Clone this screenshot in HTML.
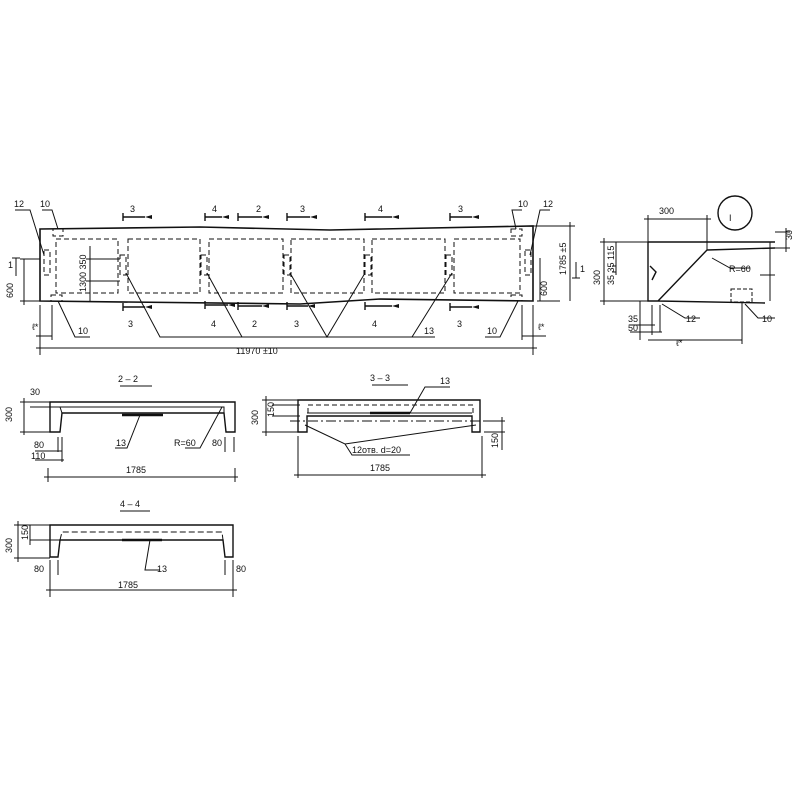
<!DOCTYPE html>
<html><head><meta charset="utf-8"><style>
html,body{margin:0;padding:0;background:#fff;}
svg{display:block}
text{font-family:"Liberation Sans",sans-serif;font-size:9px;fill:#111}
</style></head><body>
<svg width="800" height="800" viewBox="0 0 800 800" xmlns="http://www.w3.org/2000/svg">
<g stroke="#111" fill="none" stroke-width="1">
<!-- main plan -->
<path d="M40 229 L200 227 L330 230 L533 226 L533 301 L380 299 L300 304 L40 301 Z" stroke-width="1.6"/>
<g stroke-dasharray="5,3">
<rect x="56" y="239" width="62" height="54"/>
<rect x="128" y="239" width="72" height="54"/>
<rect x="209" y="239" width="74" height="54"/>
<rect x="291" y="239" width="73" height="54"/>
<rect x="372" y="239" width="73" height="54"/>
<rect x="454" y="239" width="66" height="54"/>
<rect x="120" y="255" width="6" height="20"/>
<rect x="201" y="255" width="6" height="20"/>
<rect x="284" y="255" width="6" height="20"/>
<rect x="365" y="255" width="6" height="20"/>
<rect x="446" y="255" width="6" height="20"/>
<rect x="44" y="250" width="6" height="25"/>
<rect x="525" y="250" width="6" height="25"/>
<rect x="53" y="229" width="10" height="7"/>
<rect x="51" y="295" width="11" height="6"/>
<rect x="511" y="229" width="11" height="7"/>
<rect x="511" y="295" width="11" height="6"/>
</g>
<path d="M126 273 L160 337 L435 337 M207 273 L242 337 M290 273 L327 337 L365 273 M452 273 L412 337"/>
<path d="M15 210 L30 210 L44 255 M42 210 L52 210 L58 229 M58 301 L75 337 L90 337 M522 210 L512 210 L516 229 M550 210 L540 210 L530 255 M518 301 L500 337 L485 337"/>
<g stroke-width="1.4">
<path d="M123 213 L123 221 M123 217 L145 217 M205 213 L205 221 M205 217 L222 217 M238 213 L238 221 M238 217 L262 217 M287 213 L287 221 M287 217 L310 217 M365 213 L365 221 M365 217 L392 217 M450 213 L450 221 M450 217 L472 217"/>
<path d="M123 303 L123 311 M123 307 L145 307 M205 301 L205 309 M205 305 L228 305 M238 302 L238 310 M238 306 L262 306 M287 302 L287 310 M287 306 L308 306 M365 302 L365 310 M365 306 L392 306 M450 303 L450 311 M450 307 L472 307"/>
</g>
<path d="M40 305 L40 355 M533 305 L533 355 M36 348 L537 348 M36 336 L52 336 M52 305 L52 340 M522 305 L522 340 M522 336 L546 336"/>
<path d="M20 259 L40 259 M20 301 L40 301 M24 259 L24 305 M86 259 L120 259 M86 281 L120 281 M90 246 L90 301 M540 258 L540 301 M537 301 L560 301 M533 226 L575 226 M570 222 L570 301"/>
<path d="M16 258 L16 276 M12 258 L20 258 M576 262 L576 278 M572 278 L580 278"/>
<!-- detail I -->
<circle cx="735" cy="213" r="17" stroke-width="1.4"/>
<path d="M648 242 L775 242 M707 250 L775 248 M648 242 L648 301 L658 301 L765 303 M650 266 L656 272 L652 280 M658 301 L707 250" stroke-width="1.4"/>
<rect x="731" y="289" width="21" height="13" stroke-dasharray="4,2"/>
<path d="M648 215 L648 242 M707 215 L707 250 M644 219 L711 219 M600 242 L648 242 M600 301 L648 301 M604 238 L604 305 M616 242 L616 275 M612 266 L616 266 M612 272 L616 272 M775 232 L790 232 M775 248 L790 248 M786 228 L786 252 M760 275 L775 275 M770 242 L770 301 M640 301 L640 340 M652 305 L652 335 M660 305 L660 332 M630 325 L655 325 M630 332 L662 332 M648 340 L742 340 M742 303 L742 344 M712 258 L730 268 L750 268 M662 304 L685 318 L700 318 M745 304 L758 318 L775 318"/>
<!-- section 2-2 -->
<path d="M120 386 L152 386" />
<path d="M50 402 L235 402 L235 432 L226 432 L224 413 L62 413 L60 432 L50 432 Z" stroke-width="1.4"/>
<path d="M62 413 L60 407 L224 407 L224 413"/>
<path d="M122 415 L163 415" stroke-width="2.5"/>
<path d="M140 415 L127 448 L115 448 M222 407 L200 448 L185 448 M20 402 L50 402 M20 432 L50 432 M24 398 L24 435 M30 407 L60 407 M58 437 L58 452 M62 437 L62 462 M35 451 L62 451 M35 460 L64 460 M234 437 L234 452 M225 437 L225 452 M48 468 L48 482 M235 468 L235 482 M44 477 L238 477"/>
<!-- section 3-3 -->
<path d="M372 385 L408 385"/>
<path d="M298 400 L480 400 L480 432 L472 432 L472 416 L307 416 L307 432 L298 432 Z" stroke-width="1.4"/>
<path d="M308 413 L308 405 L473 405 L473 413" stroke-dasharray="5,3"/>
<path d="M307 413 L472 413"/>
<path d="M290 421 L500 421" stroke-dasharray="10,3,2,3"/>
<path d="M370 413 L410 413" stroke-width="2.5"/>
<path d="M410 413 L425 387 L450 387 M305 425 L345 444 L476 425 M345 444 L352 455 L410 455 M262 400 L298 400 M262 432 L298 432 M266 396 L266 436 M272 405 L300 405 M272 416 L300 416 M484 421 L505 421 M484 432 L505 432 M502 417 L502 450 M298 436 L298 478 M482 436 L482 478 M294 475 L486 475"/>
<!-- section 4-4 -->
<path d="M120 511 L150 511"/>
<path d="M50 525 L233 525 L233 557 L225 557 L223 540 L60 540 L58 557 L50 557 Z" stroke-width="1.4"/>
<path d="M60 540 L62 532 L222 532 L223 540" stroke-dasharray="6,3"/>
<path d="M122 540 L162 540" stroke-width="2.5"/>
<path d="M150 540 L145 570 L160 570 M14 525 L50 525 M14 558 L50 558 M18 521 L18 562 M30 540 L60 540 M30 525 L30 545 M50 560 L50 597 M233 560 L233 597 M58 560 L58 575 M225 560 L225 575 M46 590 L237 590"/>
</g>
<g fill="#111" stroke="none">
<path d="M145 217 L152 215 L152 219 Z M222 217 L229 215 L229 219 Z M262 217 L269 215 L269 219 Z M310 217 L317 215 L317 219 Z M392 217 L399 215 L399 219 Z M472 217 L479 215 L479 219Z"/>
<path d="M145 307 L152 305 L152 309 Z M228 305 L235 303 L235 307 Z M262 306 L269 304 L269 308 Z M308 306 L315 304 L315 308 Z M392 306 L399 304 L399 308 Z M472 307 L479 305 L479 309Z"/>
</g>
<text x="130" y="212">3</text><text x="212" y="212">4</text><text x="256" y="212">2</text><text x="300" y="212">3</text><text x="378" y="212">4</text><text x="458" y="212">3</text>
<text x="128" y="327">3</text><text x="211" y="327">4</text><text x="252" y="327">2</text><text x="294" y="327">3</text><text x="372" y="327">4</text><text x="457" y="327">3</text>
<text x="14" y="207">12</text><text x="40" y="207">10</text><text x="518" y="207">10</text><text x="543" y="207">12</text>
<text x="78" y="334">10</text><text x="487" y="334">10</text><text x="424" y="334">13</text>
<text x="32" y="330">ℓ*</text><text x="538" y="330">ℓ*</text>
<text x="236" y="354">11970 ±10</text>
<text x="8" y="268">1</text><text x="580" y="272">1</text>
<text transform="translate(13,298) rotate(-90)">600</text>
<text transform="translate(86,292) rotate(-90)">1300  350</text>
<text transform="translate(547,296) rotate(-90)">600</text>
<text transform="translate(566,275) rotate(-90)">1785 ±5</text>
<text x="659" y="214">300</text>
<text x="729" y="221" font-size="20" font-family="Liberation Serif">I</text>
<text x="729" y="272">R=60</text>
<text transform="translate(792,240) rotate(-90)">30</text>
<text transform="translate(600,285) rotate(-90)">300</text>
<text transform="translate(614,285) rotate(-90)">35 35 115</text>
<text x="628" y="322">35</text><text x="628" y="331">50</text>
<text x="686" y="322">12</text><text x="762" y="322">10</text><text x="676" y="346">ℓ*</text>
<text x="118" y="382" font-size="12">2 – 2</text>
<text x="370" y="381" font-size="12">3 – 3</text>
<text x="120" y="507" font-size="12">4 – 4</text>
<text x="116" y="446">13</text><text x="174" y="446">R=60</text><text x="212" y="446">80</text>
<text x="34" y="448">80</text><text x="31" y="459">110</text><text x="126" y="473">1785</text>
<text transform="translate(12,422) rotate(-90)">300</text><text x="30" y="395">30</text>
<text x="440" y="384">13</text><text x="352" y="453">12отв. d=20</text><text x="370" y="471">1785</text>
<text transform="translate(258,425) rotate(-90)">300</text><text transform="translate(274,417) rotate(-90)">150</text>
<text transform="translate(498,448) rotate(-90)">150</text>
<text x="34" y="572">80</text><text x="157" y="572">13</text><text x="236" y="572">80</text><text x="118" y="588">1785</text>
<text transform="translate(12,553) rotate(-90)">300</text><text transform="translate(28,540) rotate(-90)">150</text>
</svg>
</body></html>
